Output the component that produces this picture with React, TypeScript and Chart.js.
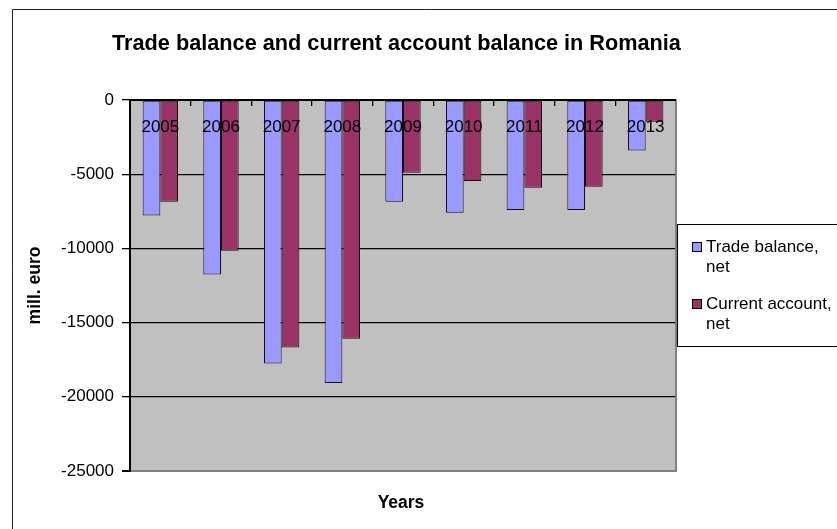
import { useEffect, useRef } from "react";
import { Chart, registerables } from "chart.js";

Chart.register(...registerables);

const categories = ["2005", "2006", "2007", "2008", "2009", "2010", "2011", "2012", "2013"];
const tradeBalance = [-7780, -11760, -17760, -19070, -6850, -7590, -7410, -7410, -3410];
const currentAccount = [-6850, -10150, -16670, -16080, -4900, -5460, -5910, -5850, -1460];
const seriesLabels = ["Trade balance, net", "Current account, net"];
const legendLines = [["Trade balance,", "net"], ["Current account,", "net"]];
const seriesColors = ["#9999FF", "#993366"];
const yMin = -25000;
const yMax = 0;
const yStep = 5000;
const chartTitle = "Trade balance and current account balance in Romania";
const xTitle = "Years";
const yTitle = "mill. euro";

const FONT = "'Liberation Sans', Arial, sans-serif";

const decor = {
  id: "decor",
  beforeDraw(chart: any) {
    const { ctx, chartArea: a } = chart;
    ctx.save();
    ctx.fillStyle = "#ffffff";
    ctx.fillRect(0, 0, chart.width, chart.height);
    ctx.fillStyle = "#C0C0C0";
    ctx.fillRect(a.left, a.top, a.right - a.left, a.bottom - a.top);
    // outer chart border
    ctx.strokeStyle = "#222";
    ctx.lineWidth = 1;
    ctx.beginPath();
    ctx.moveTo(12.5, chart.height);
    ctx.lineTo(12.5, 9.5);
    ctx.lineTo(chart.width, 9.5);
    ctx.stroke();
    // title
    ctx.fillStyle = "#000";
    ctx.font = `bold 21.7px ${FONT}`;
    ctx.textAlign = "center";
    ctx.textBaseline = "alphabetic";
    ctx.fillText(chartTitle, 396.5, 50);
    // x axis title
    ctx.font = `bold 17.5px ${FONT}`;
    ctx.fillText(xTitle, (a.left + a.right) / 2 - 2, 508);
    ctx.restore();
  },
  afterDraw(chart: any) {
    const { ctx, chartArea: a } = chart;
    ctx.save();
    // right plot edge (gray)
    ctx.strokeStyle = "#808080";
    ctx.lineWidth = 2;
    ctx.beginPath();
    ctx.moveTo(a.right, a.top + 1);
    ctx.lineTo(a.right, a.bottom + 1);
    ctx.stroke();
    // legend
    const lx = a.right + 1.5;
    const top = 224.5;
    const bottom = 346.5;
    ctx.fillStyle = "#ffffff";
    ctx.fillRect(lx, top, chart.width - lx + 10, bottom - top);
    ctx.strokeStyle = "#000";
    ctx.lineWidth = 1;
    ctx.strokeRect(lx, top, chart.width - lx + 10, bottom - top);
    ctx.font = `17px ${FONT}`;
    ctx.textAlign = "left";
    ctx.textBaseline = "middle";
    chart.data.datasets.forEach((ds: any, i: number) => {
      const cy = 247 + i * 57;
      ctx.fillStyle = ds.backgroundColor;
      ctx.fillRect(692.5, cy - 4.5, 9, 9);
      ctx.strokeStyle = "#000";
      ctx.strokeRect(692.5, cy - 4.5, 9, 9);
      ctx.fillStyle = "#000";
      legendLines[i].forEach((line, j) => {
        ctx.fillText(line, 706, cy + j * 20);
      });
    });
    ctx.restore();
  },
};

export default function App() {
  const ref = useRef<HTMLCanvasElement | null>(null);
  useEffect(() => {
    if (!ref.current) return;
    const chart = new Chart(ref.current, {
      type: "bar",
      data: {
        labels: categories,
        datasets: [
          {
            label: seriesLabels[0],
            data: tradeBalance,
            backgroundColor: seriesColors[0],
            borderColor: "#111",
            borderWidth: 1,
            borderSkipped: false,
          },
          {
            label: seriesLabels[1],
            data: currentAccount,
            backgroundColor: seriesColors[1],
            borderColor: "#111",
            borderWidth: 1,
            borderSkipped: false,
          },
        ],
      },
      options: {
        animation: false,
        responsive: true,
        maintainAspectRatio: false,
        layout: { padding: { top: 100, right: 161, bottom: 58, left: 12 } },
        plugins: {
          legend: { display: false },
          title: { display: false },
          tooltip: { enabled: false },
        },
        datasets: {
          bar: { barPercentage: 1, categoryPercentage: 0.583 },
        },
        scales: {
          x: {
            type: "category",
            position: { y: 0 } as any,
            offset: true,
            grid: {
              offset: true,
              drawOnChartArea: false,
              drawTicks: true,
              tickLength: 5,
              color: "#000",
              lineWidth: 1.3,
              z: 1,
            },
            border: { display: true, color: "#000", width: 2, z: 1 },
            ticks: {
              color: "#000",
              font: { family: FONT, size: 17 },
              padding: 12,
              maxRotation: 0,
              autoSkip: false,
              z: 2,
            },
          },
          y: {
            type: "linear",
            min: yMin,
            max: yMax,
            position: "left",
            afterFit: (scale: any) => {
              scale.width = 118;
            },
            ticks: {
              stepSize: yStep,
              color: "#000",
              font: { family: FONT, size: 17 },
              padding: 8,
              callback: (v: any) => String(v),
            },
            grid: {
              color: (c: any) => (c.tick && c.tick.value === yMin ? "#808080" : "#000"),
              lineWidth: (c: any) => (c.tick && c.tick.value === yMin ? 2 : 1.3),
              tickColor: "#000",
              tickLength: 8,
            },
            border: { display: true, color: "#000", width: 2 },
            title: {
              display: true,
              text: yTitle,
              color: "#000",
              font: { family: FONT, size: 17.5, weight: "bold" },
              padding: { top: 12.5, bottom: 0 },
            },
          },
        },
      },
      plugins: [decor],
    });
    return () => chart.destroy();
  }, []);
  return (
    <div style={{ position: "fixed", left: 0, top: 0, width: 837, height: 529 }}>
      <canvas ref={ref} />
    </div>
  );
}
